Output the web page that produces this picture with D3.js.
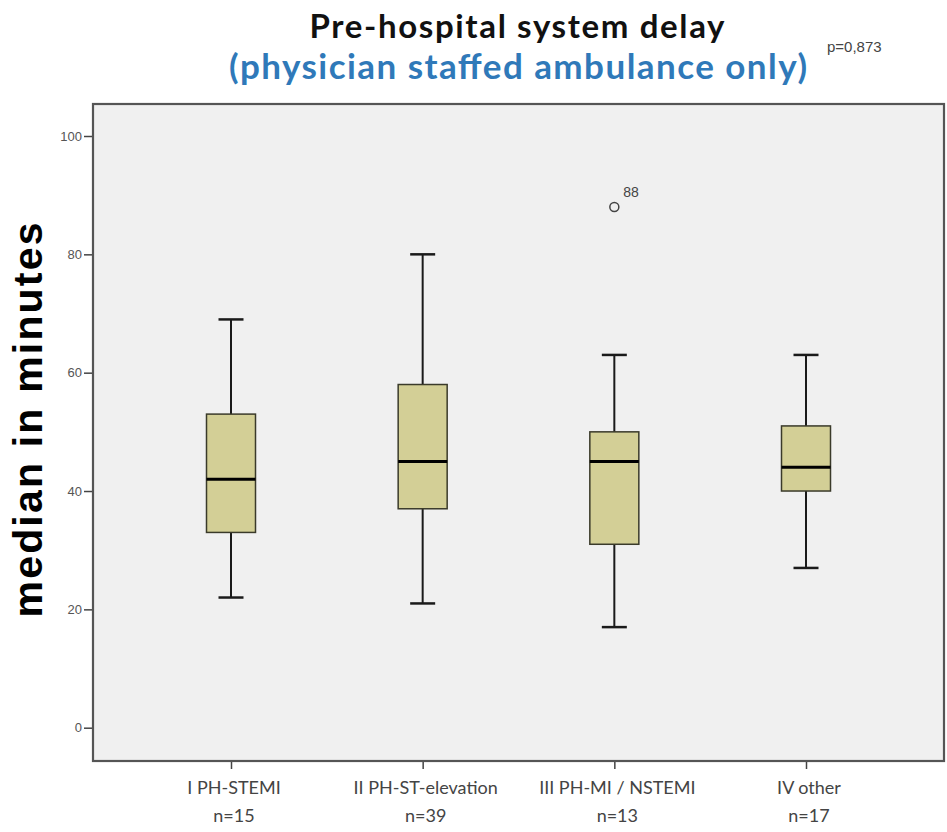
<!DOCTYPE html>
<html>
<head>
<meta charset="utf-8">
<script src="https://cdn.jsdelivr.net/npm/d3@7"></script>
<style>
  html, body { margin: 0; padding: 0; background: #ffffff; }
  svg { display: block; }
</style>
</head>
<body>
<svg id="chart" width="947" height="832"></svg>
<script>
// Group labels (two lines each) and box-plot summaries in minutes
const categories = ["I PH-STEMI", "II PH-ST-elevation", "III PH-MI / NSTEMI", "IV other"];
const groupSizes = ["n=15", "n=39", "n=13", "n=17"];
const whiskerLow  = [22, 21, 17, 27];
const q1          = [33, 37, 31, 40];
const medians     = [42, 45, 45, 44];
const q3          = [53, 58, 50, 51];
const whiskerHigh = [69, 80, 63, 63];
// Outliers: [group index, value, case label]
const outliers = [[2, 88, "88"]];
const yTicks = [0, 20, 40, 60, 80, 100];

const svg = d3.select("#chart");
const frame = { left: 93, right: 944, top: 104, bottom: 761 };

const x = d3.scalePoint()
  .domain(categories)
  .range([frame.left, frame.right])
  .padding(0.72);

const y = d3.scaleLinear()
  .domain([0, 100])
  .range([727.7, 136]);

// Plot panel
svg.append("rect")
  .attr("x", frame.left).attr("y", frame.top)
  .attr("width", frame.right - frame.left)
  .attr("height", frame.bottom - frame.top)
  .attr("fill", "#f0f0f0")
  .attr("stroke", "#555555")
  .attr("stroke-width", 2.2);

// Y axis
const yAxis = svg.append("g")
  .attr("transform", `translate(${frame.left - 1},0)`)
  .call(d3.axisLeft(y).tickValues(yTicks).tickSize(8).tickPadding(2).tickFormat(d3.format("d")));
yAxis.select(".domain").remove();
yAxis.selectAll(".tick line").attr("stroke", "#444").attr("stroke-width", 1.5);
yAxis.selectAll(".tick text")
  .attr("fill", "#555")
  .style("font-family", "'Liberation Sans', Arial, sans-serif")
  .style("font-size", "13px");

// X axis
const xAxis = svg.append("g")
  .attr("transform", `translate(0,${frame.bottom + 1})`)
  .call(d3.axisBottom(x).tickSize(7).tickFormat(""));
xAxis.select(".domain").remove();
xAxis.selectAll(".tick line").attr("stroke", "#444").attr("stroke-width", 1.5);

const xLabels = svg.append("g")
  .style("font-family", "Lato, 'Open Sans', sans-serif")
  .style("font-size", "18px")
  .attr("fill", "#444")
  .attr("text-anchor", "middle");
categories.forEach((c, i) => {
  xLabels.append("text").attr("x", x(c) + 3).attr("y", 794).text(c);
  xLabels.append("text").attr("x", x(c) + 3).attr("y", 822).text(groupSizes[i]);
});

// Box plots
const boxW = 49, capW = 25;
const boxes = svg.append("g");
categories.forEach((c, i) => {
  const cx = x(c);
  const g = boxes.append("g");
  // whiskers
  g.append("line").attr("x1", cx).attr("x2", cx)
    .attr("y1", y(whiskerHigh[i])).attr("y2", y(q3[i]))
    .attr("stroke", "#1a1a1a").attr("stroke-width", 2);
  g.append("line").attr("x1", cx).attr("x2", cx)
    .attr("y1", y(q1[i])).attr("y2", y(whiskerLow[i]))
    .attr("stroke", "#1a1a1a").attr("stroke-width", 2);
  [whiskerHigh[i], whiskerLow[i]].forEach(v => {
    g.append("line").attr("x1", cx - capW / 2).attr("x2", cx + capW / 2)
      .attr("y1", y(v)).attr("y2", y(v))
      .attr("stroke", "#1a1a1a").attr("stroke-width", 2.5);
  });
  // box
  g.append("rect")
    .attr("x", cx - boxW / 2).attr("y", y(q3[i]))
    .attr("width", boxW).attr("height", y(q1[i]) - y(q3[i]))
    .attr("fill", "#d3cf96")
    .attr("stroke", "#3a3a2a").attr("stroke-width", 1.5);
  // median
  g.append("line").attr("x1", cx - boxW / 2).attr("x2", cx + boxW / 2)
    .attr("y1", y(medians[i])).attr("y2", y(medians[i]))
    .attr("stroke", "#000").attr("stroke-width", 3);
});

// Outliers
outliers.forEach(([gi, v, lab]) => {
  const cx = x(categories[gi]);
  svg.append("circle").attr("cx", cx).attr("cy", y(v)).attr("r", 4.5)
    .attr("fill", "none").attr("stroke", "#444").attr("stroke-width", 1.5);
  svg.append("text").attr("x", cx + 9).attr("y", y(v) - 10)
    .attr("fill", "#444")
    .style("font-family", "'Liberation Sans', Arial, sans-serif")
    .style("font-size", "14px")
    .text(lab);
});

// Y axis title
svg.append("text")
  .attr("transform", "translate(42,420) rotate(-90)")
  .attr("text-anchor", "middle")
  .attr("fill", "#000")
  .attr("textLength", 395)
  .attr("lengthAdjust", "spacing")
  .style("font-family", "'Liberation Sans', Arial, sans-serif")
  .style("font-weight", "bold")
  .style("font-size", "41px")
  .text("median in minutes");

// Titles
svg.append("text")
  .attr("x", 517).attr("y", 38)
  .attr("text-anchor", "middle")
  .attr("fill", "#111")
  .attr("textLength", 415)
  .attr("lengthAdjust", "spacing")
  .style("font-family", "Lato, 'Open Sans', sans-serif")
  .style("font-weight", "bold")
  .style("font-size", "33px")
  .text("Pre-hospital system delay");
svg.append("text")
  .attr("x", 518).attr("y", 79)
  .attr("text-anchor", "middle")
  .attr("fill", "#2f79b9")
  .attr("textLength", 578)
  .attr("lengthAdjust", "spacing")
  .style("font-family", "Lato, 'Open Sans', sans-serif")
  .style("font-weight", "bold")
  .style("font-size", "35px")
  .text("(physician staffed ambulance only)");
svg.append("text")
  .attr("x", 827).attr("y", 52)
  .attr("fill", "#444")
  .style("font-family", "'Liberation Sans', Arial, sans-serif")
  .style("font-size", "15px")
  .text("p=0,873");
</script>
</body>
</html>
